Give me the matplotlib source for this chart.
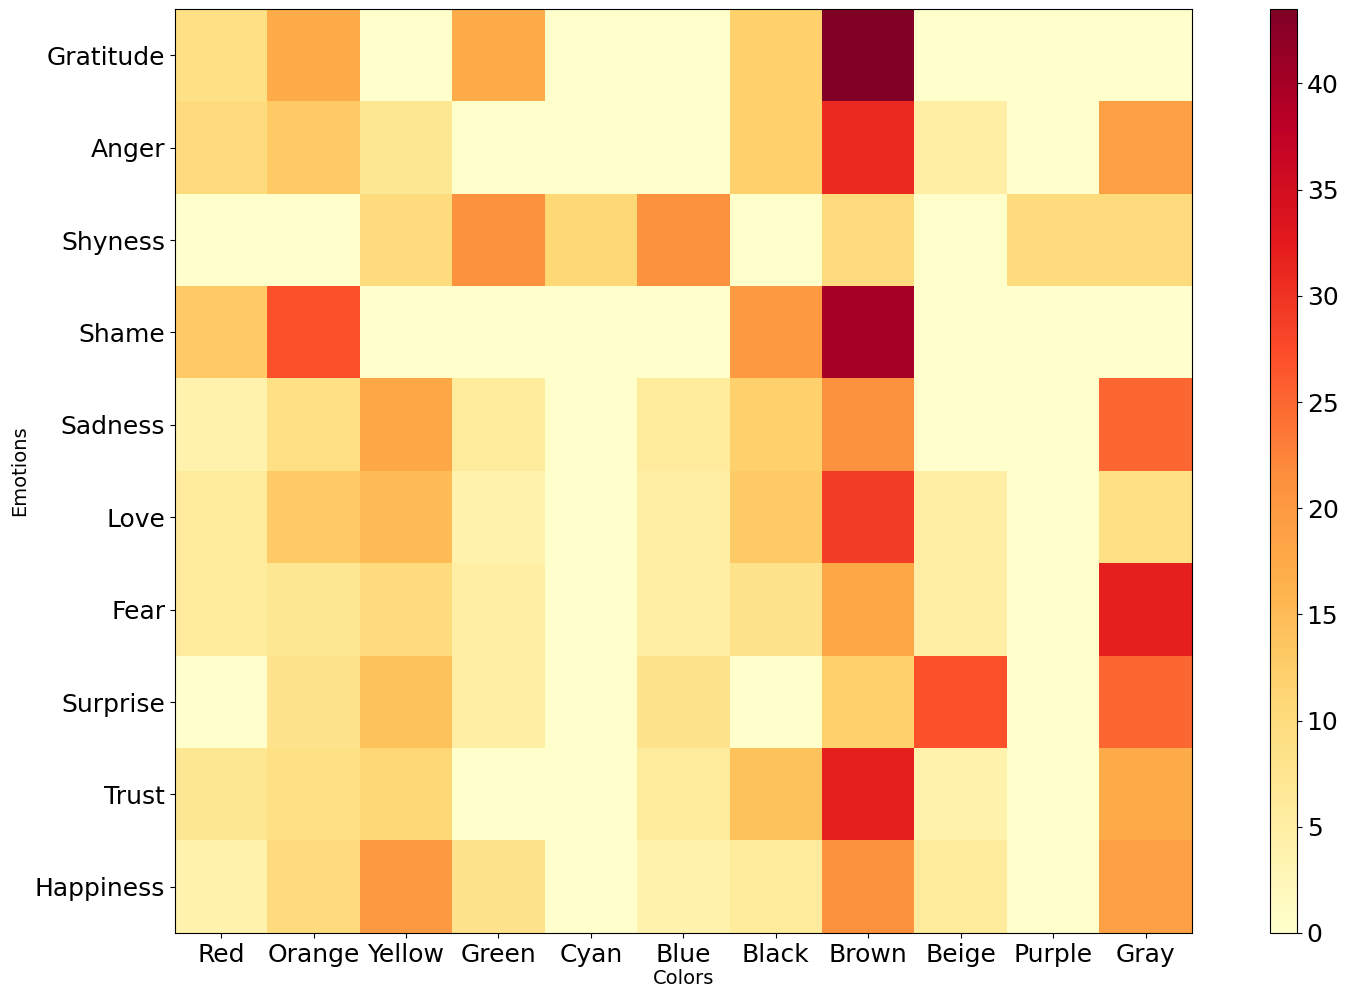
import matplotlib
matplotlib.use("Agg")
import matplotlib.pyplot as plt
import numpy as np

emotions = ["Gratitude", "Anger", "Shyness", "Shame", "Sadness", "Love", "Fear", "Surprise", "Trust", "Happiness"]
colors = ["Red", "Orange", "Yellow", "Green", "Cyan", "Blue", "Black", "Brown", "Beige", "Purple", "Gray"]

gratitude = [9, 17, 0, 17, 0, 0, 12, 43.5, 0, 0, 0]
anger     = [10, 13, 7, 0, 0, 0, 12, 31, 5, 0, 19]
shyness   = [0, 0, 10, 21, 11, 21, 0, 10, 0, 10, 10]
shame     = [13, 27, 0, 0, 0, 0, 20, 40, 0, 0, 0]
sadness   = [4, 9, 18, 6, 0, 6, 12, 21, 0, 0, 25]
love      = [6, 13, 15, 4, 0, 5, 13, 29, 5, 0, 9]
fear      = [6, 7, 10, 5, 0, 5, 8, 18, 5, 0, 32]
surprise  = [0, 8, 14, 5, 0, 8, 0, 12, 27, 0, 25]
trust     = [7, 9, 11, 0, 0, 6, 14, 32, 4, 0, 17]
happiness = [4, 10, 20, 8, 0, 4, 6, 21, 6, 0, 19]

data = np.array([gratitude, anger, shyness, shame, sadness, love, fear, surprise, trust, happiness])

fig = plt.figure(figsize=(13.66, 10.02), dpi=100)
ax = fig.add_axes([0.128, 0.0689, 0.7445, 0.922])
cax = fig.add_axes([0.9297, 0.0689, 0.0198, 0.922])

im = ax.imshow(data, cmap="YlOrRd", aspect="auto", interpolation="nearest")
ax.set_xticks(range(len(colors)))
ax.set_xticklabels(colors, fontsize=18)
ax.set_yticks(range(len(emotions)))
ax.set_yticklabels(emotions, fontsize=18)
ax.set_xlabel("Colors", fontsize=14, labelpad=2)
ax.set_ylabel("Emotions", fontsize=14)

cb = fig.colorbar(im, cax=cax)
cb.set_ticks(np.arange(0, 45, 5))
cb.ax.tick_params(labelsize=18)
cb.outline.set_linewidth(0.8)

fig.savefig("out.png", dpi=100)
